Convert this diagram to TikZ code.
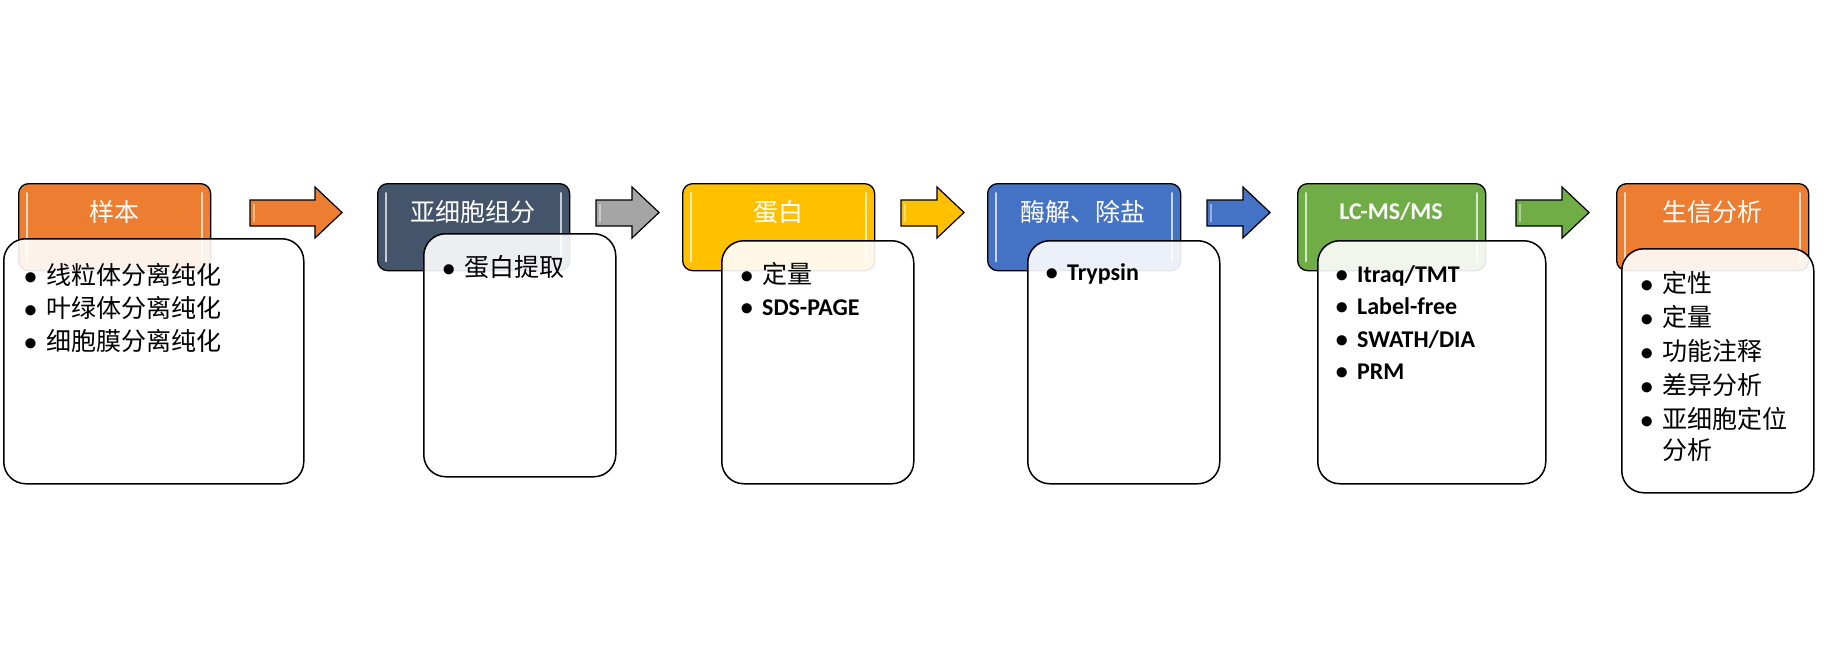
\documentclass[tikz,border=0pt]{standalone}
\usepackage{fontspec}
\setmainfont{Carlito}
\newfontfamily\cjk{Noto Sans CJK SC}
\definecolor{cOrange}{HTML}{ED7D31}
\definecolor{cSlate}{HTML}{44546A}
\definecolor{cGold}{HTML}{FFC000}
\definecolor{cBlue}{HTML}{4472C4}
\definecolor{cGreen}{HTML}{70AD47}
\definecolor{cGray}{HTML}{A5A5A5}
\newcommand\blockarr[3]{%
  \filldraw[arrowsty, fill=#3] (#1,200) -- ({#2-27},200) -- ({#2-27},187) -- (#2,212.5) -- ({#2-27},238) -- ({#2-27},226) -- (#1,226) -- cycle;
  \draw[white, opacity=0.45, line width=1.5pt] ({#1+4},204) -- ({#1+4},222);
}
\newcommand\hdrbox[4]{% name, x, width, colour
  \node[hdr, fill=#4, minimum width=#3pt, anchor=north west] (#1) at (#2,183) {};
  \draw[#4!30!white, line width=2pt, line cap=round] ([xshift=9pt,yshift=-10pt]#1.north west) -- ([xshift=9pt,yshift=10pt]#1.south west);
  \draw[#4!30!white, line width=2pt, line cap=round] ([xshift=-9pt,yshift=-10pt]#1.north east) -- ([xshift=-9pt,yshift=10pt]#1.south east);
}
\newcommand\bul{\llap{\rmfamily\bfseries\fontsize{24}{29}\selectfont •\kern9.5pt}}
\begin{document}
\begin{tikzpicture}[x=1pt,y=-1pt,
  hdr/.style={draw=black, line width=1.3pt, rounded corners=10pt, minimum height=87pt, inner sep=0pt},
  bodybox/.style={draw=black, line width=1.5pt, rounded corners=22pt, fill=white, fill opacity=0.9, anchor=north west, inner sep=0pt},
  arrowsty/.style={draw=black, line width=1.2pt, line join=miter},
  htxt/.style={text=white, inner sep=0pt, anchor=base, font=\cjk\fontsize{25}{30}\selectfont},
  hltxt/.style={text=white, inner sep=0pt, anchor=base, font=\bfseries\fontsize{24}{29}\selectfont},
  ctxt/.style={inner sep=0pt, anchor=base west, font=\cjk\fontsize{25}{30}\selectfont},
  ltxt/.style={inner sep=0pt, anchor=base west, font=\bfseries\fontsize{24}{29}\selectfont}]
\useasboundingbox (0,0) rectangle (1846,666);

% headers
\hdrbox{h1}{18}{192}{cOrange}
\hdrbox{h2}{377}{192}{cSlate}
\hdrbox{h3}{682}{192}{cGold}
\hdrbox{h4}{987}{193}{cBlue}
\hdrbox{h5}{1297}{188}{cGreen}
\hdrbox{h6}{1616}{192}{cOrange}

% arrows
\blockarr{250}{342}{cOrange}
\blockarr{596}{659}{cGray}
\blockarr{901}{964}{cGold}
\blockarr{1207}{1270}{cBlue}
\blockarr{1516}{1589}{cGreen}

% bodies
\node[bodybox, minimum width=300pt, minimum height=245pt] (b1) at (3,238) {};
\node[bodybox, minimum width=192pt, minimum height=243pt] (b2) at (423,233) {};
\node[bodybox, minimum width=192pt, minimum height=243pt] (b3) at (721,240) {};
\node[bodybox, minimum width=192pt, minimum height=243pt] (b4) at (1027,240) {};
\node[bodybox, minimum width=228pt, minimum height=243pt] (b5) at (1317,240) {};
\node[bodybox, minimum width=192pt, minimum height=244pt] (b6) at (1621,248) {};

% header texts
\node[htxt] (t1) at (114,221) {样本};
\node[htxt] (t2) at (473,221) {亚细胞组分};
\node[htxt] (t3) at (778,221) {蛋白};
\node[htxt] (t4) at (1083,221) {酶解、除盐};
\node[hltxt] (t5) at (1391,219) {LC-MS/MS};
\node[htxt] (t6) at (1712,221) {生信分析};

% body texts
\node[ctxt] (i11) at (46,284) {\bul 线粒体分离纯化};
\node[ctxt] (i12) at (46,317) {\bul 叶绿体分离纯化};
\node[ctxt] (i13) at (46,350) {\bul 细胞膜分离纯化};

\node[ctxt] (i21) at (464,276) {\bul 蛋白提取};

\node[ctxt] (i31) at (762,283) {\bul 定量};
\node[ltxt] (i32) at (762,315) {\bul SDS-PAGE};

\node[ltxt] (i41) at (1067,280) {\bul Trypsin};

\node[ltxt] (i51) at (1357,282) {\bul Itraq/TMT};
\node[ltxt] (i52) at (1357,314) {\bul Label-free};
\node[ltxt] (i53) at (1357,347) {\bul SWATH/DIA};
\node[ltxt] (i54) at (1357,379) {\bul PRM};

\node[ctxt] (i61) at (1662,292) {\bul 定性};
\node[ctxt] (i62) at (1662,326) {\bul 定量};
\node[ctxt] (i63) at (1662,360) {\bul 功能注释};
\node[ctxt] (i64) at (1662,394) {\bul 差异分析};
\node[ctxt] (i65) at (1662,428) {\bul 亚细胞定位};
\node[ctxt] (i66) at (1662,459) {分析};
\end{tikzpicture}
\end{document}
